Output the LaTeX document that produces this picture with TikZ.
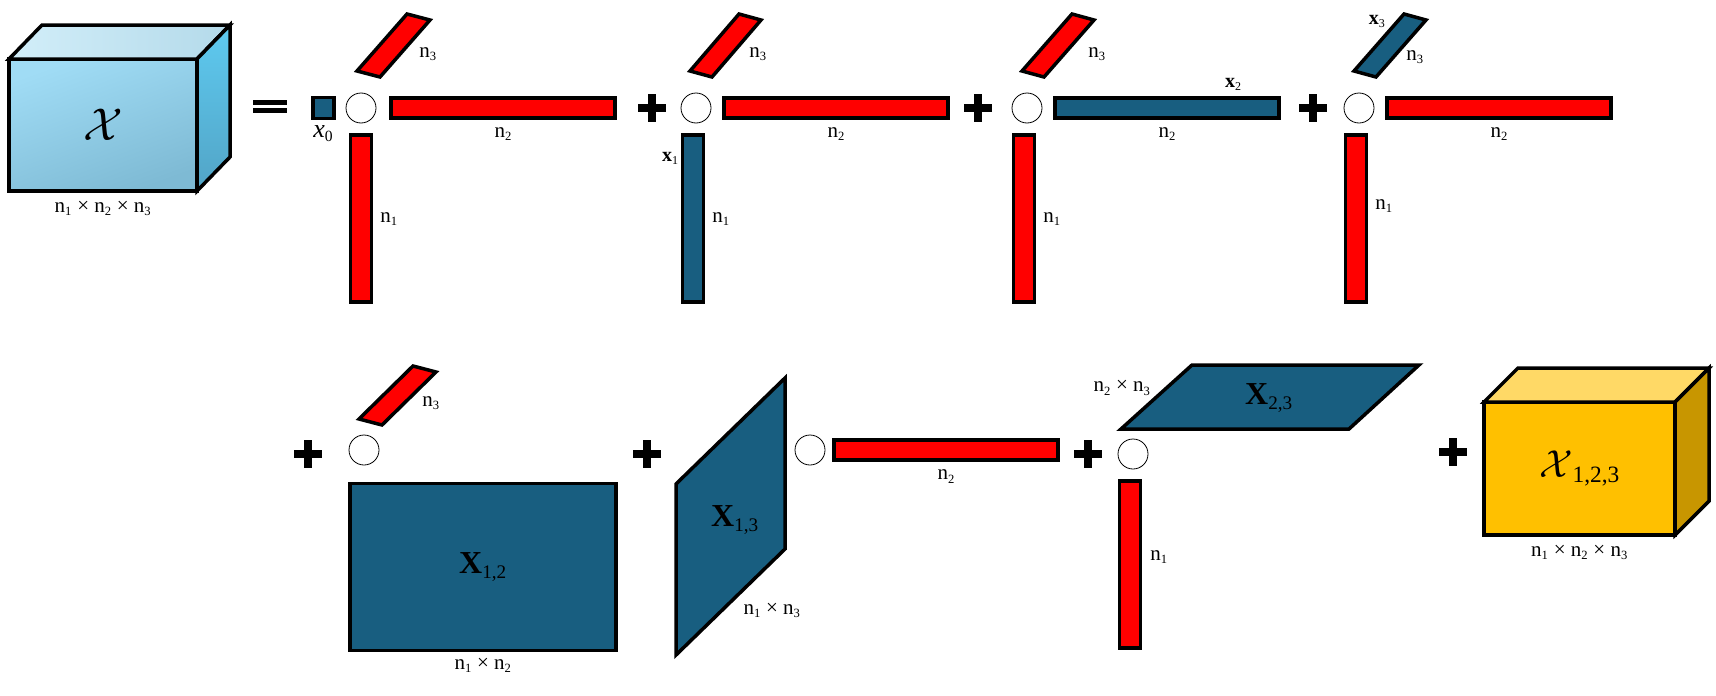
\RequirePackage{fix-cm}
\documentclass[tikz,border=0pt]{standalone}
\usepackage{fontspec}
\setmainfont{Liberation Serif}
\usetikzlibrary{positioning,calc}
\renewcommand{\defaultscriptratio}{.6}

\definecolor{fibred}{RGB}{255,0,0}
\definecolor{fibblue}{RGB}{24,94,128}
\definecolor{cubefrontA}{RGB}{160,220,245}
\definecolor{cubefrontB}{RGB}{126,186,212}
\definecolor{cubetopA}{RGB}{210,238,249}
\definecolor{cubetopB}{RGB}{180,218,234}
\definecolor{cubesideA}{RGB}{94,202,240}
\definecolor{cubesideB}{RGB}{82,164,198}
\definecolor{goldfront}{RGB}{255,192,0}
\definecolor{goldtop}{RGB}{255,217,102}
\definecolor{goldside}{RGB}{200,150,0}

\begin{document}
\begin{tikzpicture}[
    x=1pt, y=-1pt,
    node distance=10pt,
    cubeface/.style={
        draw,
        line width=3.5pt,
        line join=miter
    },
    cell/.style={
        rectangle,
        draw,
        line width=3.5pt,
        fill=fibblue,
        minimum size=21pt,
        inner sep=0pt
    },
    hbar/.style={
        rectangle,
        draw,
        line width=3.5pt,
        fill=fibred,
        minimum width=224pt,
        minimum height=20pt,
        inner sep=0pt
    },
    vbar/.style={
        rectangle,
        draw,
        line width=3.5pt,
        fill=fibred,
        minimum width=21pt,
        minimum height=167pt,
        inner sep=0pt
    },
    joint/.style={
        circle,
        draw,
        line width=0.8pt,
        minimum size=30pt,
        inner sep=0pt
    },
    dimlabel/.style={
        font=\fontsize{21}{24}\selectfont,
        inner sep=1pt
    },
    tag/.style={
        font=\fontsize{20}{24}\selectfont,
        inner sep=0pt
    },
    big/.style={
        font=\fontsize{32}{36}\selectfont,
        inner sep=0pt
    },
    plusmark/.style={
        line width=8pt
    }
]
\useasboundingbox (0,0) rectangle (1716,696);

% Input tensor
\node [cubeface, rectangle, outer sep=0pt, inner sep=0pt, minimum width=188pt, minimum height=132pt,
       top color=cubefrontA, bottom color=cubefrontB, shading angle=20,
       font=\fontsize{46}{50}\selectfont] (tensor) at (103,125) {$\mathcal{X}$};
\draw [cubeface, left color=cubetopA, right color=cubetopB]
    (tensor.north west) -- ++(33,-34) -- ++(188,0) -- (tensor.north east) -- cycle;
\draw [cubeface, top color=cubesideA, bottom color=cubesideB]
    (tensor.north east) -- ++(33,-34) -- ++(0,132) -- (tensor.south east) -- cycle;
\node [dimlabel, below=9pt of tensor] (tensordim) {n\textsubscript{1} × n\textsubscript{2} × n\textsubscript{3}};

% Equals
\fill (253,100) rectangle (287,105);
\fill (253,108) rectangle (287,113);

% Term 1
\node [joint] (c1) at (361,108) {};
\node [cell, left=10pt of c1] (x0) {};
\node [hbar, right=13pt of c1] (h1) {};
\node [vbar, below=10pt of c1] (v1) {};
\draw [cubeface, fill=fibred] ($(c1)+(-4,-37)$) -- ++(23,6) -- ++(50,-57) -- ++(-23,-6) -- cycle;
\node [dimlabel] (n3a) at ($(c1)+(67,-54)$) {n\textsubscript{3}};
\node [dimlabel, below=7pt of h1] (n2a) {n\textsubscript{2}};
\node [dimlabel, right=6pt of v1] (n1a) {n\textsubscript{1}};
\node [font=\fontsize{26}{30}\selectfont, inner sep=0pt, below=5pt of x0] (x0lab) {\textit{x}\textsubscript{0}};

\draw [plusmark] (652,108) +(-14,0) -- +(14,0) +(0,-14) -- +(0,14);

% Term 2
\node [joint] (c2) at (696,108) {};
\node [hbar, right=11pt of c2] (h2) {};
\node [vbar, fill=fibblue, below=10pt of c2, xshift=-3pt] (v2) {};
\draw [cubeface, fill=fibred] ($(c2)+(-6,-37)$) -- ++(22,6) -- ++(49,-57) -- ++(-22,-6) -- cycle;
\node [dimlabel] (n3b) at ($(c2)+(62,-54)$) {n\textsubscript{3}};
\node [dimlabel, below=7pt of h2] (n2b) {n\textsubscript{2}};
\node [dimlabel, right=6pt of v2] (n1b) {n\textsubscript{1}};
\node [tag, below left=19pt and 2pt of v2.north west] (x1lab) {\textbf{x}\textsubscript{1}};

\draw [plusmark] (978,108) +(-14,0) -- +(14,0) +(0,-14) -- +(0,14);

% Term 3
\node [joint] (c3) at (1027,108) {};
\node [hbar, fill=fibblue, right=11pt of c3] (h3) {};
\node [vbar, below=10pt of c3, xshift=-3pt] (v3) {};
\draw [cubeface, fill=fibred] ($(c3)+(-5,-37)$) -- ++(22,6) -- ++(50,-57) -- ++(-22,-6) -- cycle;
\node [dimlabel] (n3c) at ($(c3)+(70,-54)$) {n\textsubscript{3}};
\node [dimlabel, below=7pt of h3] (n2c) {n\textsubscript{2}};
\node [dimlabel, right=6pt of v3] (n1c) {n\textsubscript{1}};
\node [tag, above left=6pt and 39pt of h3.north east] (x2lab) {\textbf{x}\textsubscript{2}};

\draw [plusmark] (1313,108) +(-14,0) -- +(14,0) +(0,-14) -- +(0,14);

% Term 4
\node [joint] (c4) at (1359,108) {};
\node [hbar, right=11pt of c4] (h4) {};
\node [vbar, below=10pt of c4, xshift=-3pt] (v4) {};
\draw [cubeface, fill=fibblue] ($(c4)+(-5,-37)$) -- ++(22,6) -- ++(50,-57) -- ++(-22,-6) -- cycle;
\node [dimlabel] (n3d) at ($(c4)+(56,-51)$) {n\textsubscript{3}};
\node [dimlabel, below=7pt of h4] (n2d) {n\textsubscript{2}};
\node [dimlabel, right=6pt of v4, yshift=13pt] (n1d) {n\textsubscript{1}};
\node [tag] (x3lab) at ($(c4)+(18,-87)$) {\textbf{x}\textsubscript{3}};

% Second row: pair terms
\draw [plusmark] (308,454) +(-14,0) -- +(14,0) +(0,-14) -- +(0,14);
\node [joint] (c5) at (364,450) {};
\draw [cubeface, fill=fibred] ($(c5)+(-5,-31)$) -- ++(23,6) -- ++(54,-53) -- ++(-23,-6) -- cycle;
\node [dimlabel] (n3e) at ($(c5)+(67,-47)$) {n\textsubscript{3}};
\node [cubeface, rectangle, fill=fibblue, minimum width=266pt, minimum height=167pt, big] (m12) at (483,567) {\textbf{X}\textsubscript{1,2}};
\node [dimlabel, below=5pt of m12] (m12dim) {n\textsubscript{1} × n\textsubscript{2}};

\draw [plusmark] (647,454) +(-14,0) -- +(14,0) +(0,-14) -- +(0,14);
\draw [cubeface, fill=fibblue] (676,484) -- (785,378) -- (785,549) -- (676,655) -- cycle;
\node [big] (m13) at (735,520) {\textbf{X}\textsubscript{1,3}};
\node [dimlabel] (m13dim) at (772,610) {n\textsubscript{1} × n\textsubscript{3}};
\node [joint] (c6) at (810,450) {};
\node [hbar, right=7pt of c6] (h6) {};
\node [dimlabel, below=7pt of h6] (n2f) {n\textsubscript{2}};

\draw [plusmark] (1088,454) +(-14,0) -- +(14,0) +(0,-14) -- +(0,14);
\draw [cubeface, fill=fibblue] (1121,429) -- (1349,429) -- (1419,365) -- (1192,365) -- cycle;
\node [big] (m23) at (1269,398) {\textbf{X}\textsubscript{2,3}};
\node [dimlabel] (m23dim) at (1122,388) {n\textsubscript{2} × n\textsubscript{3}};
\node [joint] (c7) at (1133,454) {};
\node [vbar, minimum width=21pt, below=10pt of c7, xshift=-3pt] (v7) {};
\node [dimlabel, right=7pt of v7, yshift=8pt] (n1g) {n\textsubscript{1}};

% Core tensor
\draw [plusmark] (1453,452) +(-14,0) -- +(14,0) +(0,-14) -- +(0,14);
\node [cubeface, rectangle, outer sep=0pt, inner sep=0pt, minimum width=191pt, minimum height=133pt,
       fill=goldfront, font=\fontsize{39}{44}\selectfont] (core) at (1579.5,468.5) {$\mathcal{X}$\textsubscript{1,2,3}};
\draw [cubeface, fill=goldtop]
    (core.north west) -- ++(34,-34) -- ++(191,0) -- (core.north east) -- cycle;
\draw [cubeface, fill=goldside]
    (core.north east) -- ++(34,-34) -- ++(0,133) -- (core.south east) -- cycle;
\node [dimlabel, below=9pt of core] (coredim) {n\textsubscript{1} × n\textsubscript{2} × n\textsubscript{3}};

\end{tikzpicture}
\end{document}
